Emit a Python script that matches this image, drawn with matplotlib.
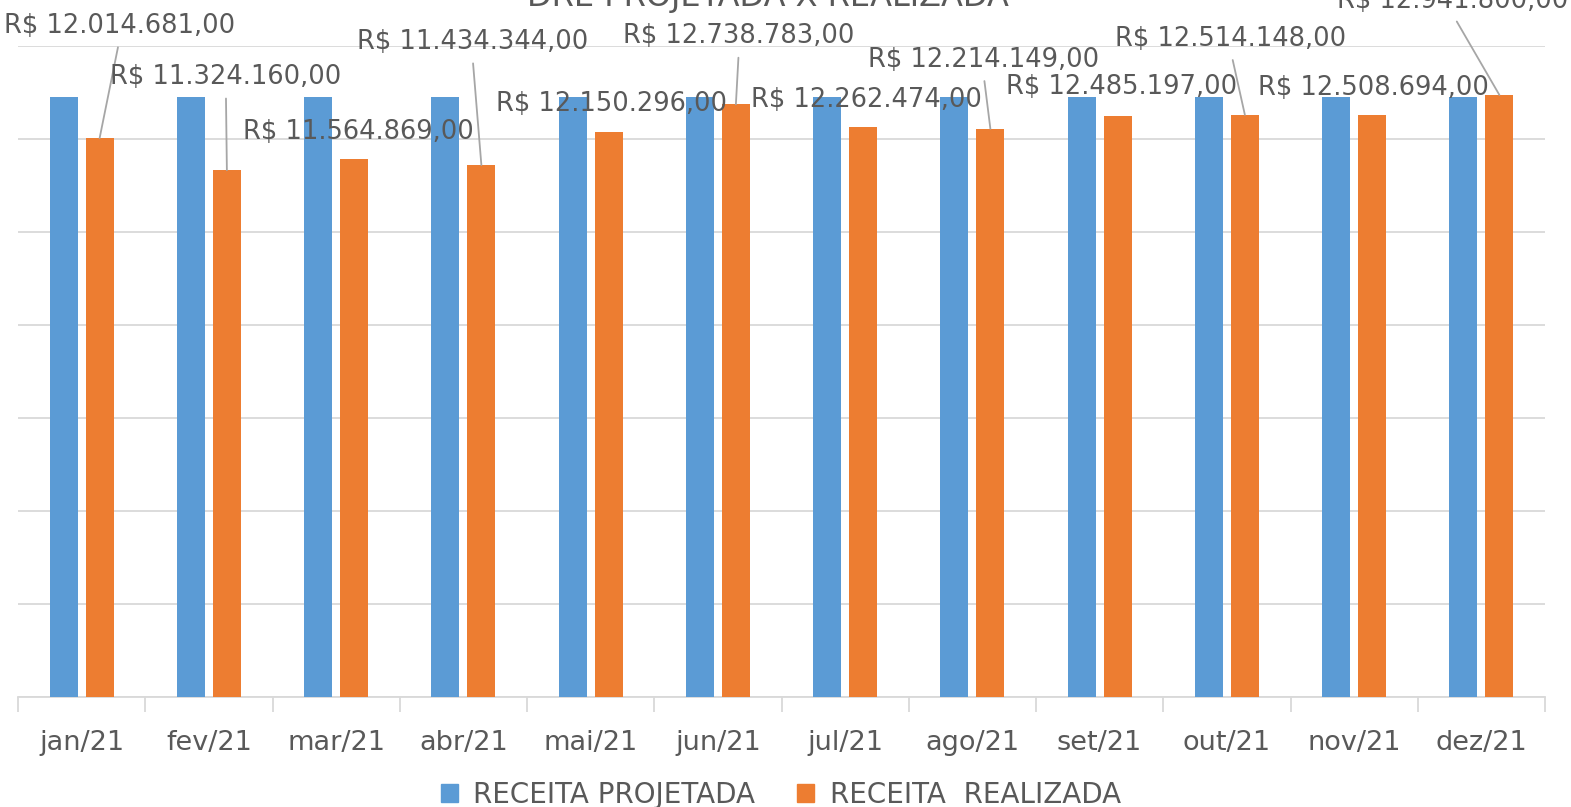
import matplotlib
matplotlib.use("Agg")
import matplotlib.pyplot as plt
import numpy as np
from matplotlib.patches import Patch

plt.rcParams['font.family'] = ['DejaVu Sans']

# ---- data ----
months = ['jan/21', 'fev/21', 'mar/21', 'abr/21', 'mai/21', 'jun/21',
          'jul/21', 'ago/21', 'set/21', 'out/21', 'nov/21', 'dez/21']
projetada = [12890000, 12890000, 12890000, 12890000, 12890000, 12890000,
             12890000, 12890000, 12890000, 12890000, 12890000, 12890000]
realizada = [12014681, 11324160, 11564869, 11434344, 12150296, 12738783,
             12262474, 12214149, 12485197, 12514148, 12508694, 12941800]
series_names = ['RECEITA PROJETADA', 'RECEITA  REALIZADA']
title = 'DRE PROJETADA X REALIZADA'

# label placement (style): offsets in pixels from bar top, and leader flag
label_dx = [20, -1, 4, -9, 3, 3, 3, -7, 4, -14, 1, -47]
label_dy = [112, 93, 27, 123, 28, 68, 27, 69, 29, 76, 27, 94]
leader = [True, True, False, True, False, True, False, True, False, True, False, True]

BLUE = '#5B9BD5'
ORANGE = '#ED7D31'
TXT = '#595959'
GRID = '#D9D9D9'
LEAD = '#A6A6A6'


def brl(v):
    s = f"{v:,.2f}"
    s = s.replace(',', 'X').replace('.', ',').replace('X', '.')
    return 'R$ ' + s


W, H = 1571, 807
fig = plt.figure(figsize=(W / 100, H / 100), dpi=100)
ax = fig.add_axes([18 / W, (H - 697) / H, (1545 - 18) / W, (697 - 45.7) / H])

x = np.arange(len(months))
w = 0.22
off = 0.1415
ax.bar(x - off, projetada, w, color=BLUE, zorder=3)
ax.bar(x + off, realizada, w, color=ORANGE, zorder=3)

ax.set_xlim(-0.5, len(months) - 0.5)
ax.set_ylim(0, 14e6)
ax.set_yticks(np.arange(0, 14e6 + 1, 2e6))
ax.yaxis.grid(True, color=GRID, lw=1.3)
ax.set_axisbelow(True)
ax.tick_params(axis='y', length=0, labelleft=False)

ax.set_xticks(x, months)
ax.tick_params(axis='x', which='major', length=0, pad=24, labelsize=19.5, labelcolor=TXT)
ax.set_xticks(np.arange(-0.5, len(months), 1), minor=True)
ax.tick_params(axis='x', which='minor', length=11, color=GRID, width=1.3)

for s in ['top', 'right', 'left']:
    ax.spines[s].set_visible(False)
ax.spines['bottom'].set_color(GRID)
ax.spines['bottom'].set_linewidth(1.3)

for i, v in enumerate(realizada):
    kw = {}
    if leader[i]:
        kw['arrowprops'] = dict(arrowstyle='-', color=LEAD, lw=1.3,
                                relpos=(0.5, 0.0), shrinkA=4, shrinkB=0)
    ax.annotate(brl(v), xy=(x[i] + off, v), xytext=(label_dx[i], label_dy[i]),
                textcoords='offset pixels', ha='center', va='center',
                fontsize=18.5, color=TXT, annotation_clip=False, zorder=5, **kw)

fig.text(768 / W, (H - 6) / H, title, ha='center', va='baseline', fontsize=23, color=TXT)

handles = [Patch(color=BLUE, label=series_names[0]),
           Patch(color=ORANGE, label=series_names[1])]
fig.legend(handles=handles, loc='center', bbox_to_anchor=(0.497, (H - 795) / H),
           ncol=2, frameon=False, fontsize=20, handlelength=0.62, handleheight=0.62,
           handletextpad=0.55, columnspacing=1.5, labelcolor=TXT,
           borderpad=0, borderaxespad=0)

fig.savefig('out.png', dpi=100)
